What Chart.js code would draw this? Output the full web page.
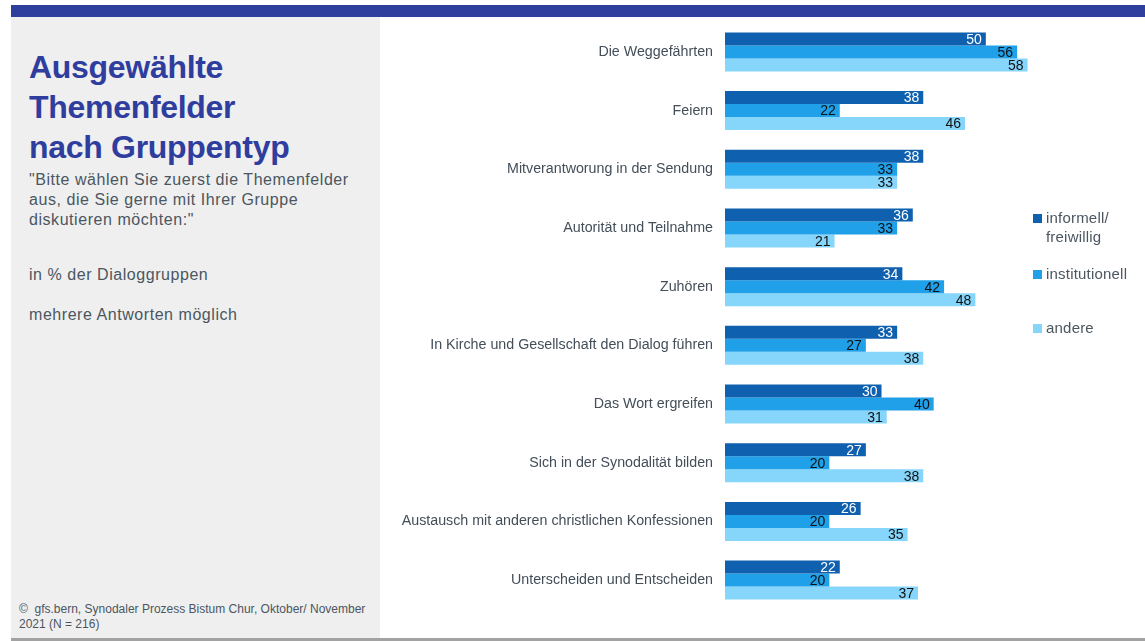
<!DOCTYPE html>
<html>
<head>
<meta charset="utf-8">
<script src="https://cdn.jsdelivr.net/npm/chart.js@4/dist/chart.umd.min.js"></script>
<style>
  html, body { margin: 0; padding: 0; background: #fff; }
  body { width: 1145px; height: 641px; position: relative; overflow: hidden; font-family: "Liberation Sans", Arial, sans-serif; }
  #topbar { position: absolute; left: 11px; top: 5px; width: 1134px; height: 12px; background: #2e3f9e; }
  #panel { position: absolute; left: 11px; top: 17px; width: 369px; height: 621px; background: #efefef; }
  #bottomline { position: absolute; left: 11px; top: 638px; width: 1134px; height: 3px; background: #a2a2a2; }
  .title { position: absolute; left: 29px; top: 47px; font-weight: bold; font-size: 32px; line-height: 40px; color: #2e3d9e; letter-spacing: -0.3px; }
  .sub { position: absolute; left: 29px; color: #4b5661; font-size: 16px; line-height: 20px; letter-spacing: 0.55px; }
  .foot { position: absolute; left: 19px; top: 602px; color: #4b5661; font-size: 12px; line-height: 15px; }
  #chart { position: absolute; left: 380px; top: 2px; }
  .leg { position: absolute; left: 1033px; font-size: 15px; line-height: 19px; color: #4b5661; letter-spacing: 0.2px; }
  .leg i { position: absolute; left: 0; width: 9px; height: 9px; }
  .leg span { position: absolute; left: 13px; white-space: nowrap; }
</style>
</head>
<body>
<div id="panel"></div>
<div id="bottomline"></div>
<div class="title">Ausgewählte<br>Themenfelder<br>nach Gruppentyp</div>
<div class="sub" style="top:170px">"Bitte wählen Sie zuerst die Themenfelder<br>aus, die Sie gerne mit Ihrer Gruppe<br>diskutieren möchten:"</div>
<div class="sub" style="top:265px">in % der Dialoggruppen</div>
<div class="sub" style="top:305px">mehrere Antworten möglich</div>
<div class="foot">©&nbsp; gfs.bern, Synodaler Prozess Bistum Chur, Oktober/ November<br>2021 (N = 216)</div>
<canvas id="chart" width="658" height="628"></canvas>
<div id="topbar"></div>
<div id="legend"></div>
<script>
const KATEGORIEN = [
  "Die Weggefährten",
  "Feiern",
  "Mitverantworung in der Sendung",
  "Autorität und Teilnahme",
  "Zuhören",
  "In Kirche und Gesellschaft den Dialog führen",
  "Das Wort ergreifen",
  "Sich in der Synodalität bilden",
  "Austausch mit anderen christlichen Konfessionen",
  "Unterscheiden und Entscheiden"
];
const INFORMELL      = [50, 38, 38, 36, 34, 33, 30, 27, 26, 22];
const INSTITUTIONELL = [56, 22, 33, 33, 42, 27, 40, 20, 20, 20];
const ANDERE         = [58, 46, 33, 21, 48, 38, 31, 38, 35, 37];
const SERIEN = ["informell/\nfreiwillig", "institutionell", "andere"];

const FARBEN = ["#0f60ae", "#1fa0e8", "#86d5fa"];
const TEXTFARBEN = ["#ffffff", "#111111", "#111111"];

// legend (HTML, positions per item)
const LEGEND_TOP = [214, 270, 324];
const leg = document.getElementById("legend");
SERIEN.forEach((s, i) => {
  const d = document.createElement("div");
  d.className = "leg";
  d.style.top = LEGEND_TOP[i] + "px";
  d.innerHTML = `<i style="background:${FARBEN[i]}"></i><span style="top:-6px">${s.replace("\n", "<br>")}</span>`;
  leg.appendChild(d);
});

const wertLabels = {
  id: "wertLabels",
  afterDatasetsDraw(chart) {
    const ctx = chart.ctx;
    ctx.save();
    ctx.font = "14px 'Liberation Sans', Arial, sans-serif";
    ctx.textAlign = "right";
    ctx.textBaseline = "middle";
    chart.data.datasets.forEach((ds, i) => {
      chart.getDatasetMeta(i).data.forEach((bar, j) => {
        ctx.fillStyle = TEXTFARBEN[i];
        ctx.fillText(ds.data[j], bar.x - 4, bar.y + 1);
      });
    });
    ctx.restore();
  }
};

new Chart(document.getElementById("chart"), {
  type: "bar",
  data: {
    labels: KATEGORIEN,
    datasets: [INFORMELL, INSTITUTIONELL, ANDERE].map((d, i) => ({
      label: SERIEN[i],
      data: d,
      backgroundColor: FARBEN[i],
      borderWidth: 0,
      categoryPercentage: 0.665,
      barPercentage: 1
    }))
  },
  options: {
    indexAxis: "y",
    responsive: false,
    animation: false,
    layout: { padding: 0 },
    plugins: { legend: { display: false }, tooltip: { enabled: false } },
    scales: {
      x: { min: 0, max: 60, display: false },
      y: {
        grid: { display: false, drawTicks: false },
        border: { display: false },
        afterFit: s => { s.width = 345; },
        ticks: {
          padding: 12,
          color: "#434e59",
          font: { family: "'Liberation Sans', Arial, sans-serif", size: 14.25 }
        }
      }
    }
  },
  plugins: [wertLabels]
});
</script>
</body>
</html>
